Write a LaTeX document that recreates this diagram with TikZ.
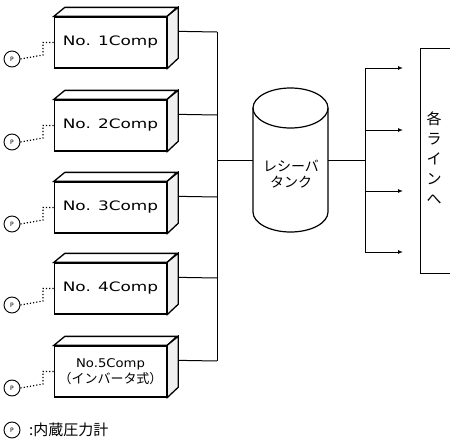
\documentclass[tikz,border=0pt]{standalone}
\usepackage{fontspec}
\setmainfont{DejaVu Sans}
\newfontfamily\jpfont{Noto Sans CJK JP}
\usetikzlibrary{calc,arrows.meta}
\newcommand\widelabel[1]{\scalebox{1.3}[1]{#1}}
\tikzset{
  compbox/.style={draw, line width=1.3pt, fill=white, minimum width=112pt, minimum height=51pt, inner sep=0pt, font=\fontsize{13}{16}\selectfont, align=center},
  sideface/.style={draw, line width=1.3pt, fill=gray!12},
  topface/.style={draw, line width=1.3pt, fill=white},
  gauge/.style={draw, circle, line width=0.9pt, minimum size=16pt, inner sep=0pt, font=\fontsize{6}{6}\selectfont},
  gaugeline/.style={dotted, line width=1.2pt},
  pipe/.style={draw, line width=1pt},
  outarrow/.style={pipe, -{Latex[length=5pt,width=4pt]}},
}
\begin{document}
\begin{tikzpicture}[x=1pt,y=-1pt]
\useasboundingbox (0,0) rectangle (450,439);
\clip (0,0) rectangle (450,439);
% compressors
\foreach \i/\yy/\txt in {1/17/{\widelabel{No. 1Comp}},2/100/{\widelabel{No. 2Comp}},3/182/{\widelabel{No. 3Comp}},4/263/{\widelabel{No. 4Comp}},5/346/{\fontsize{12}{17}\selectfont\scalebox{1.1}[1]{No.5Comp}\\{\jpfont （インバータ式）}}}{
  \node[compbox] (b\i) at (110.5,\yy+25.5) {\txt};
  \draw[topface] (b\i.north west) -- ++(11,-9) -- ++(112,0) -- (b\i.north east) -- cycle;
  \draw[sideface] (b\i.north east) -- ++(11,-9) -- ++(0,51) -- (b\i.south east) -- cycle;
  \coordinate (p\i) at ($(b\i.north east)+(11,15)$);
  \coordinate (j\i) at (217,\yy+15);
  \draw[pipe] (p\i) -- (j\i);
  \node[gauge] (g\i) at (12,\yy+42) {P};
  \coordinate (d\i) at (43,\yy+38);
  \draw[gaugeline] (g\i.east) -- (d\i) |- (b\i.west);
}
\draw[pipe] (j1) -- (j5);
% tank
\coordinate (tl) at (253,108);
\coordinate (tr) at (328,108);
\coordinate (bl) at (253,212);
\coordinate (br) at (328,212);
\draw[line width=1.2pt] (tl) -- (bl) .. controls (253,223) and (269.8,232) .. (290.5,232) .. controls (311.2,232) and (328,223) .. (br) -- (tr);
\draw[line width=1.2pt] (290.5,108) ellipse (37.5pt and 20pt);
\node[font=\jpfont\fontsize{14}{16}\selectfont, align=center, inner sep=0pt] (tank) at (291,174) {レシーバ\\タンク};
\coordinate (tin) at (253,160);
\coordinate (tout) at (328,160);
\coordinate (jm) at (217,160);
\draw[pipe] (jm) -- (tin);
% outlets
\coordinate (o) at (365,160);
\draw[pipe] (tout) -- (o);
\coordinate (v1) at (365,68);
\coordinate (v4) at (365,252);
\draw[pipe] (v1) -- (v4);
\foreach \k/\yy in {1/68,2/130,3/191,4/252}{
  \coordinate (s\k) at (365,\yy);
  \coordinate (e\k) at (403,\yy);
  \draw[outarrow] (s\k) -- (e\k);
}
% lines box
\draw[line width=0.8pt] (470,48) -- (420,48) -- (420,273) -- (470,273);
\node[font=\jpfont\fontsize{15}{20}\selectfont, align=center, inner sep=0pt] (lines) at (434,158) {各\\ラ\\イ\\ン\\へ};
% legend
\node[gauge] (gl) at (12,430) {P};
\node[anchor=west, inner sep=0pt, font=\jpfont\fontsize{15}{17}\selectfont] (leg) at (29,430) {:内蔵圧力計};
\end{tikzpicture}
\end{document}
